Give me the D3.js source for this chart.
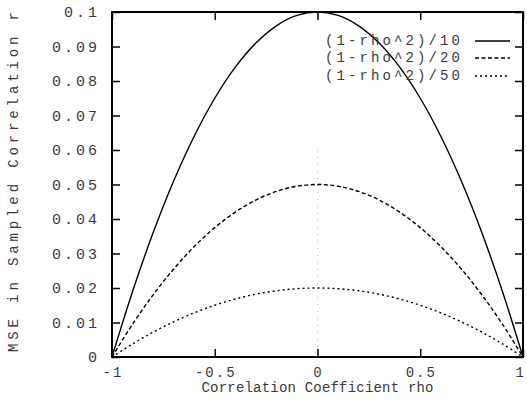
<!DOCTYPE html>
<html><head><meta charset="utf-8">
<script src="https://cdn.jsdelivr.net/npm/d3@7"></script>
<style>body{margin:0;background:#fff}svg{display:block}text{font-family:"Liberation Mono","DejaVu Sans Mono",monospace;fill:#3a3a3a}</style>
</head><body><svg id="c" width="527" height="408"></svg>
<script>
const rho = [-1,-0.9,-0.8,-0.7,-0.6,-0.5,-0.4,-0.3,-0.2,-0.1,0,0.1,0.2,0.3,0.4,0.5,0.6,0.7,0.8,0.9,1];
const mse10 = [0,0.019,0.036,0.051,0.064,0.075,0.084,0.091,0.096,0.099,0.1,0.099,0.096,0.091,0.084,0.075,0.064,0.051,0.036,0.019,0];
const mse20 = [0,0.0095,0.018,0.0255,0.032,0.0375,0.042,0.0455,0.048,0.0495,0.05,0.0495,0.048,0.0455,0.042,0.0375,0.032,0.0255,0.018,0.0095,0];
const mse50 = [0,0.0038,0.0072,0.0102,0.0128,0.015,0.0168,0.0182,0.0192,0.0198,0.02,0.0198,0.0192,0.0182,0.0168,0.015,0.0128,0.0102,0.0072,0.0038,0];
const seriesNames = ["(1-rho^2)/10","(1-rho^2)/20","(1-rho^2)/50"];
const xTicks = [-1,-0.5,0,0.5,1];
const xTickLabels = ["-1","-0.5","0","0.5","1"];
const yTicks = [0,0.01,0.02,0.03,0.04,0.05,0.06,0.07,0.08,0.09,0.1];
const yTickLabels = ["0","0.01","0.02","0.03","0.04","0.05","0.06","0.07","0.08","0.09","0.1"];
const xTitle = "Correlation Coefficient rho";
const yTitle = "MSE in Sampled Correlation r";

const svg = d3.select("#c");
const L=112,R=523,T=12,B=357;
const x = d3.scaleLinear().domain([-1,1]).range([L,R]);
const y = d3.scaleLinear().domain([0,0.1]).range([B,T]);
const dashes = [null,"4,2.5","2,3"];

// faint artifact line at 0
svg.append("line").attr("x1",x(0)).attr("x2",x(0)).attr("y1",y(0.06)).attr("y2",B)
  .attr("stroke","#bbb").attr("stroke-width",1).attr("stroke-dasharray","1,6");

// curves
const line = d3.line().x((d,i)=>x(rho[i])).y(d=>y(d)).curve(d3.curveCatmullRom);
[mse10,mse20,mse50].forEach((s,k)=>{
  svg.append("path").attr("d",line(s)).attr("fill","none").attr("stroke","#000")
    .attr("stroke-width",1.4).attr("stroke-dasharray",dashes[k]);
});

// axes (ticks inward on all sides)
const tk=8;
svg.append("g").attr("transform",`translate(0,${B})`)
  .call(d3.axisBottom(x).tickValues(xTicks).tickSize(-tk).tickFormat(""))
  .call(g=>g.select(".domain").remove()).selectAll("line").attr("stroke-width",1.5);
svg.append("g").attr("transform",`translate(0,${T})`)
  .call(d3.axisTop(x).tickValues(xTicks).tickSize(-tk).tickFormat(""))
  .call(g=>g.select(".domain").remove()).selectAll("line").attr("stroke-width",1.5);
svg.append("g").attr("transform",`translate(${L},0)`)
  .call(d3.axisLeft(y).tickValues(yTicks).tickSize(-tk).tickFormat(""))
  .call(g=>g.select(".domain").remove()).selectAll("line").attr("stroke-width",1.5);
svg.append("g").attr("transform",`translate(${R},0)`)
  .call(d3.axisRight(y).tickValues(yTicks).tickSize(-tk).tickFormat(""))
  .call(g=>g.select(".domain").remove()).selectAll("line").attr("stroke-width",1.5);
svg.append("rect").attr("x",L).attr("y",T).attr("width",R-L).attr("height",B-T)
  .attr("fill","none").attr("stroke","#000").attr("stroke-width",2);

// tick labels
svg.append("g").selectAll("text").data(yTicks).join("text")
  .attr("x",100).attr("y",d=>y(d)+5).attr("text-anchor","end")
  .attr("font-size",15).attr("letter-spacing",3).text((d,i)=>yTickLabels[i]);
svg.append("g").selectAll("text").data(xTicks).join("text")
  .attr("x",(d,i)=> i===xTicks.length-1 ? 526 : x(d)+1).attr("y",377)
  .attr("text-anchor",(d,i)=> i===xTicks.length-1 ? "end" : "middle")
  .attr("font-size",14).attr("letter-spacing",2).text((d,i)=>xTickLabels[i]);

// titles
svg.append("text").attr("x",x(0)).attr("y",392).attr("text-anchor","middle")
  .attr("font-size",14).attr("textLength",232).attr("lengthAdjust","spacing").text(xTitle);
svg.append("text").attr("transform","translate(18,352) rotate(-90)").attr("text-anchor","start")
  .attr("font-size",14).attr("textLength",340).attr("lengthAdjust","spacing").text(yTitle);

// legend
const ly=[41,58,76];
seriesNames.forEach((n,k)=>{
  svg.append("text").attr("x",460).attr("y",ly[k]+4).attr("text-anchor","end")
    .attr("font-size",14).attr("textLength",135).attr("lengthAdjust","spacing").text(n);
  svg.append("line").attr("x1",475).attr("x2",510).attr("y1",ly[k]).attr("y2",ly[k])
    .attr("stroke","#000").attr("stroke-width",1.4).attr("stroke-dasharray",dashes[k]);
});
</script></body></html>
